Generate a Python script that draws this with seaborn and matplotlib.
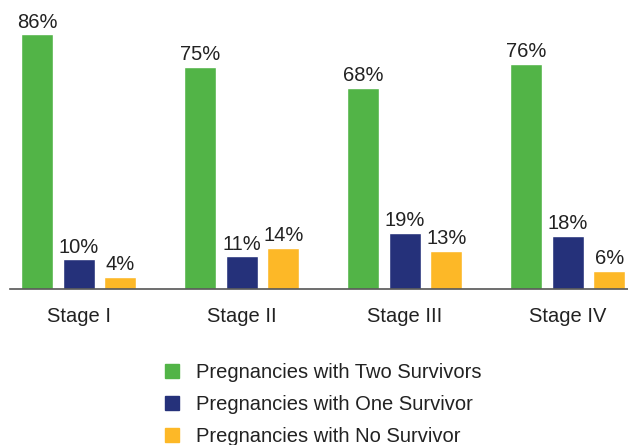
import matplotlib
matplotlib.use("Agg")
import matplotlib.pyplot as plt
import seaborn as sns
import pandas as pd

# ==============================
# DATA
# ==============================

stages = ["Stage I", "Stage II", "Stage III", "Stage IV"]
series = ["Pregnancies with Two Survivors",
          "Pregnancies with One Survivor",
          "Pregnancies with No Survivor"]
two_survivors = [86, 75, 68, 76]
one_survivor = [10, 11, 19, 18]
no_survivor = [4, 14, 13, 6]
colors = ["#52b447", "#25317a", "#fdb827"]

rows = []
for vals, name in zip([two_survivors, one_survivor, no_survivor], series):
    for st, v in zip(stages, vals):
        rows.append({"stage": st, "series": name, "value": v})
df = pd.DataFrame(rows)

# ==============================
# PLOT
# ==============================

sns.set_style("white")
plt.rcParams["font.family"] = ["Liberation Sans", "DejaVu Sans"]

fig = plt.figure(figsize=(6.28, 4.45), dpi=100)
ax = fig.add_axes([10 / 628, 156 / 445, 618 / 628, 289 / 445])

sns.barplot(data=df, x="stage", y="value", hue="series", hue_order=series,
            palette=colors, width=0.764, gap=0.23, saturation=1,
            legend=False, ax=ax)

for cont in ax.containers:
    ax.bar_label(cont, labels=[f"{int(v)}%" for v in cont.datavalues],
                 padding=2, fontsize=14.5, color="#222222")

ax.set_xlim(-0.423, 3.37)
ax.set_ylim(0, 97.6)
ax.set_xlabel("")
ax.set_ylabel("")
ax.set_yticks([])
ax.tick_params(axis="x", length=0, pad=13, labelsize=14.5, labelcolor="#222222")
sns.despine(ax=ax, left=True)
ax.spines["bottom"].set_color("#555555")
ax.spines["bottom"].set_linewidth(1.2)

handles = [plt.Rectangle((0, 0), 1, 1, color=c) for c in colors]
fig.legend(handles, series, loc="upper left",
           bbox_to_anchor=(157 / 628, 1 - 355 / 445),
           frameon=False, fontsize=14.5, handlelength=0.68, handleheight=0.68,
           handletextpad=0.85, labelspacing=0.65, labelcolor="#222222",
           borderaxespad=0)

fig.savefig("out.png", dpi=100)
